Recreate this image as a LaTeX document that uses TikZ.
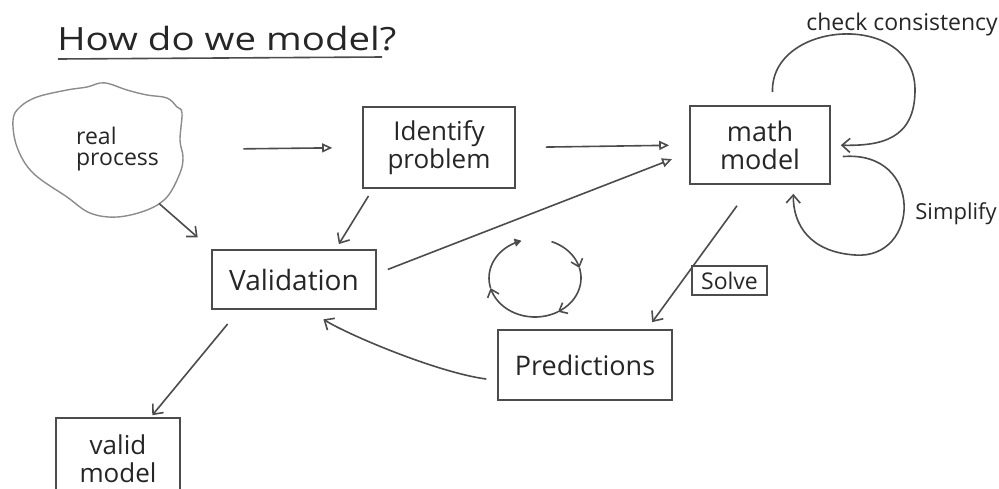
\documentclass[tikz,border=0pt]{standalone}
\usepackage{fontspec}
\setmainfont{Open Sans}
\newfontfamily\titlefont[FakeStretch=1.2]{Open Sans}
\usetikzlibrary{arrows.meta}
\begin{document}
\begin{tikzpicture}[x=0.5pt,y=-0.5pt,
  ink/.style={draw=black!70, line width=0.8pt},
  box/.style={draw=black!70, line width=0.8pt, inner sep=0pt, text=black!85, align=center},
  lbl/.style={inner sep=0pt, text=black!85},
  tri/.style={ink, -{Triangle[open, length=5pt, width=4.5pt]}},
  barb/.style={ink, -{Straight Barb[length=4pt, width=7pt]}},
  cbarb/.style={ink, -{Straight Barb[length=3.5pt, width=6pt]}},
]
\useasboundingbox (0,0) rectangle (999,488);
\fill[white] (0,0) rectangle (999,488);
\clip (0,0) rectangle (999,488);

% title
\node[lbl, anchor=base west, font=\titlefont\fontsize{16}{18}\selectfont] (title) at (57,50) {How do we model?};
\draw[ink] (58,59) -- (382,57);

% cloud
\draw[draw=black!45, line width=0.7pt] plot[smooth cycle, tension=0.6] coordinates {
 (100,83) (110,84) (127,90) (147,95) (167,98) (177,107) (182,113) (180,140) (183,157)
 (180,173) (167,197) (147,210) (117,217) (90,213) (67,197) (33,173) (17,147) (13,120)
 (20,107) (37,97) (67,90) (87,87)};
\node[inner sep=0pt, minimum width=85.5pt, minimum height=67.5pt, text=black!85,
      font=\fontsize{11.5}{10.5}\selectfont] (real) at (97.5,149.5)
      {\hspace*{20pt}\begin{tabular}{@{}l@{}}real\\process\end{tabular}};

% boxes
\node[box, minimum width=76pt, minimum height=40.5pt, font=\fontsize{13}{14}\selectfont] (identify) at (439,147.5) {Identify\\problem};
\node[box, minimum width=70pt, minimum height=39pt, font=\fontsize{13.5}{14}\selectfont] (math) at (760,145) {math\\model};
\node[box, minimum width=82pt, minimum height=29.5pt, font=\fontsize{14}{16}\selectfont] (validation) at (294,279.5) {Validation};
\node[box, minimum width=87pt, minimum height=35pt, font=\fontsize{13.5}{16}\selectfont] (predictions) at (585,365) {Predictions};
\node[box, minimum width=37.5pt, minimum height=14.5pt, font=\fontsize{11.5}{13}\selectfont] (solve) at (729.5,280.5) {Solve};
\node[box, minimum width=62pt, minimum height=41pt, font=\fontsize{13}{14}\selectfont] (valid) at (118,459) {valid\\model};

% labels of loops
\node[lbl, anchor=base west, font=\fontsize{11.5}{13}\selectfont] (cc) at (806,30) {check consistency};
\node[lbl, anchor=base west, font=\fontsize{11}{13}\selectfont] (simp) at (915,219) {Simplify};

% connectors
\draw[tri, shorten <=30pt, shorten >=15pt] (real.east) -- (identify.west);
\draw[tri, shorten <=15pt, shorten >=10pt] (identify.east) -- (math.west);
\draw[tri, shorten <=5.9pt, shorten >=9.2pt] (validation.4) -- (math.186);
\draw[barb, shorten <=41pt, shorten >=9pt] (real.center) -- (validation.north west);
\draw[barb, shorten <=4.2pt, shorten >=3pt] (identify.212) -- (validation.36);
\draw[barb, shorten <=13pt, shorten >=4.4pt] (math.259) -- (predictions.30);
\draw[barb, shorten <=5.5pt, shorten >=9pt] (predictions.190) .. controls +(-60,-8) and +(40,25) .. (validation.-65);
\draw[barb, shorten <=9.2pt, shorten >=1.3pt] (validation.209.5) -- (valid.52);

% loops on math model
\draw[barb, shorten <=6.5pt, shorten >=5pt] (math.72) .. controls (770,20) and (915,10) .. (915,90) .. controls (915,140) and (880,146) .. (math.east);
\draw[barb, shorten <=6pt, shorten >=4.5pt] (math.-10) .. controls (925,150) and (920,260) .. (855,255) .. controls (810,252) and (793,225) .. (math.-50);

% cycle symbol
\foreach \a/\b in {-69/-15, -15/60, 60/165}
  \draw[cbarb] plot[domain=\a:\b, samples=20, smooth] ({535+46*cos(\x)},{278+39*sin(\x)});
\draw[ink, -{Triangle[open, length=3.5pt, width=4pt]}] plot[domain=165:253, samples=20, smooth] ({535+46*cos(\x)},{278+39*sin(\x)});
\end{tikzpicture}
\end{document}
